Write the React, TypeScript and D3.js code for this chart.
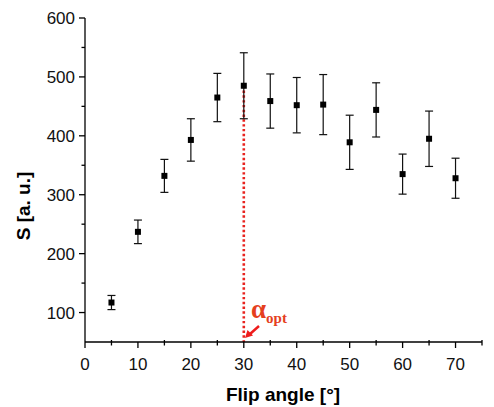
import React from "react";
import * as d3 from "d3";

const angles = [5, 10, 15, 20, 25, 30, 35, 40, 45, 50, 55, 60, 65, 70];
const signal = [117, 237, 332, 393, 465, 485, 459, 452, 453, 389, 444, 335, 395, 328];
const errors = [12, 20, 28, 36, 41, 56, 46, 47, 51, 46, 46, 34, 47, 34];
const xTicks = [0, 10, 20, 30, 40, 50, 60, 70];
const xMinor = [5, 15, 25, 35, 45, 55, 65, 75];
const yTicks = [100, 200, 300, 400, 500, 600];
const yMinor = [150, 250, 350, 450, 550];
const optAngle = 30;

export default function App() {
  const W = 494, H = 407;
  const left = 85, right = 482, top = 18, bottom = 342;
  const x = d3.scaleLinear().domain([0, 75]).range([left, right]);
  const y = d3.scaleLinear().domain([50, 600]).range([bottom, top]);
  const font = "Arial, 'Liberation Sans', Helvetica, sans-serif";
  const optIdx = angles.indexOf(optAngle);
  return (
    <svg width={W} height={H} style={{ position: "absolute", left: 0, top: 0 }}>
      <rect width={W} height={H} fill="#fff" />
      {/* red dotted line */}
      <line x1={x(optAngle)} x2={x(optAngle)} y1={y(signal[optIdx])} y2={bottom}
        stroke="#e8231f" strokeWidth={2.6} strokeDasharray="2.4 2.4" />
      {/* axes */}
      <line x1={left} x2={left} y1={top} y2={bottom} stroke="#000" strokeWidth={1.3} />
      <line x1={left} x2={right} y1={bottom} y2={bottom} stroke="#000" strokeWidth={1.3} />
      {yTicks.map(t => (
        <g key={"y" + t}>
          <line x1={left - 6} x2={left} y1={y(t)} y2={y(t)} stroke="#000" strokeWidth={1.3} />
          <text x={left - 10} y={y(t)} dy="0.36em" textAnchor="end" fontFamily={font} fontSize={17} fill="#111">{t}</text>
        </g>
      ))}
      {yMinor.map(t => (
        <line key={"ym" + t} x1={left - 3.5} x2={left} y1={y(t)} y2={y(t)} stroke="#000" strokeWidth={1.3} />
      ))}
      {xTicks.map(t => (
        <g key={"x" + t}>
          <line x1={x(t)} x2={x(t)} y1={bottom} y2={bottom + 6} stroke="#000" strokeWidth={1.3} />
          <text x={x(t)} y={369.5} textAnchor="middle" fontFamily={font} fontSize={17} fill="#111">{t}</text>
        </g>
      ))}
      {xMinor.map(t => (
        <line key={"xm" + t} x1={x(t)} x2={x(t)} y1={bottom - 2} y2={bottom + 3.5} stroke="#000" strokeWidth={1.3} />
      ))}
      {/* error bars and markers */}
      {angles.map((a, i) => {
        const cx = x(a);
        const y1 = y(signal[i] + errors[i]);
        const y2 = y(signal[i] - errors[i]);
        return (
          <g key={"p" + a}>
            <line x1={cx} x2={cx} y1={y1} y2={y2} stroke="#111" strokeWidth={1.2} />
            <line x1={cx - 4} x2={cx + 4} y1={y1} y2={y1} stroke="#111" strokeWidth={1.2} />
            <line x1={cx - 4} x2={cx + 4} y1={y2} y2={y2} stroke="#111" strokeWidth={1.2} />
            <rect x={cx - 3} y={y(signal[i]) - 3} width={6} height={6} fill="#000" />
          </g>
        );
      })}
      {/* alpha opt label */}
      <text x={251} y={318} fontFamily="'Liberation Serif', 'DejaVu Serif', serif" fontWeight="bold" fill="#e5401e">
        <tspan fontSize={27}>α</tspan>
        <tspan fontSize={15} dy={5}>opt</tspan>
      </text>
      <line x1={259} x2={250} y1={326} y2={334} stroke="#ee1c1c" strokeWidth={2.4} />
      <path d="M245,338 L247.5,330 L253,335.5 Z" fill="#ee1c1c" />
      {/* axis titles */}
      <text x={283} y={401} textAnchor="middle" fontFamily={font} fontWeight="bold" fontSize={19} fill="#000">Flip angle [°]</text>
      <text transform={`translate(30,206) rotate(-90)`} textAnchor="middle" fontFamily={font} fontWeight="bold" fontSize={19} fill="#000">S [a. u.]</text>
    </svg>
  );
}
